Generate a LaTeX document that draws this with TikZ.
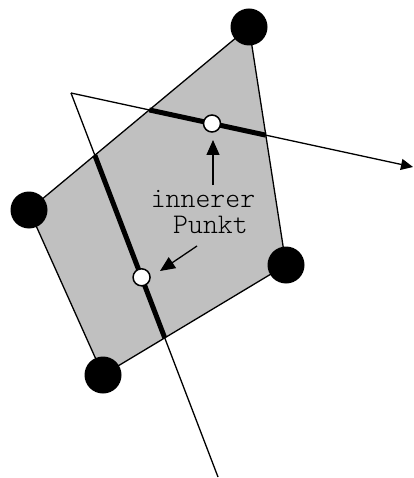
\documentclass[tikz,border=0pt]{standalone}
\usepackage{fontspec}
\setmonofont{Latin Modern Mono Light}
\usetikzlibrary{arrows.meta,intersections,calc}
\definecolor{polygray}{HTML}{C0C0C0}
\tikzset{
  thinline/.style={line width=1.3pt},
  thickline/.style={line width=5pt},
  vertexdot/.style={circle,fill=black,inner sep=0pt,minimum size=37pt},
  innerdot/.style={circle,draw=black,fill=white,line width=1.5pt,inner sep=0pt,minimum size=17pt},
  lbl/.style={font=\ttfamily\fontsize{28.4}{25.5}\selectfont,inner sep=0pt,align=center},
  lblarrow/.style={line width=1.3pt,-{Triangle[length=15pt,width=13pt]}}
}
\begin{document}
\begin{tikzpicture}[x=1pt,y=-1pt]
\useasboundingbox (0,0) rectangle (413,478);
% vertices
\coordinate (vt) at (249,27);
\coordinate (vr) at (286,265);
\coordinate (vb) at (103,375);
\coordinate (vl) at (29,210);
% line points
\coordinate (s) at (71,93);
\coordinate (e1) at (413,167);
\coordinate (e2) at (218,477);
% polygon
\fill[polygray] (vt) -- (vr) -- (vb) -- (vl) -- cycle;
\draw[thinline, name path=edgeTL] (vt) -- (vl);
\draw[thinline, name path=edgeTR] (vt) -- (vr);
\draw[thinline, name path=edgeB] (vr) -- (vb);
\draw[thinline] (vb) -- (vl);
% lines
\draw[thinline, name path=lineA, -{Triangle[length=12pt,width=11pt]}] (s) -- (e1);
\draw[thinline, name path=lineB] (s) -- (e2);
% intersections
\path[name intersections={of=lineA and edgeTL, by=a1}];
\path[name intersections={of=lineA and edgeTR, by=a2}];
\path[name intersections={of=lineB and edgeTL, by=b1}];
\path[name intersections={of=lineB and edgeB, by=b2}];
\draw[thickline] (a1) -- (a2);
\draw[thickline] (b1) -- (b2);
% inner points
\node[innerdot] (p1) at ($(s)!0.41228!(e1)$) {};
\node[innerdot] (p2) at ($(s)!0.48!(e2)$) {};
% vertex dots
\node[vertexdot] (dt) at (vt) {};
\node[vertexdot] (dr) at (vr) {};
\node[vertexdot] (db) at (vb) {};
\node[vertexdot] (dl) at (vl) {};
% label
\node[lbl, anchor=base] (l1) at (203,233) {innerer\\\hphantom{x}Punkt};
\coordinate (a1s) at (213,185);
\coordinate (a1e) at (213,140);
\coordinate (a2s) at (197,246);
\coordinate (a2e) at (160,271);
\draw[lblarrow] (a1s) -- (a1e);
\draw[lblarrow] (a2s) -- (a2e);
\end{tikzpicture}
\end{document}
